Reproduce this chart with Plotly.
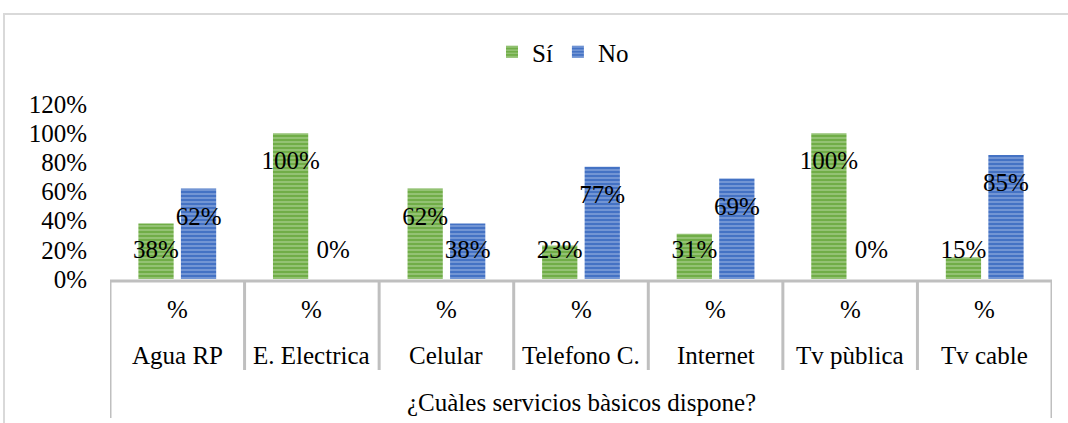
import plotly.graph_objects as go

categories = ["Agua RP", "E. Electrica", "Celular", "Telefono C.", "Internet", "Tv pùblica", "Tv cable"]
si_values = [0.38, 1.00, 0.62, 0.23, 0.31, 1.00, 0.15]
no_values = [0.62, 0.00, 0.38, 0.77, 0.69, 0.00, 0.85]
unit_label = "%"
group_title = "¿Cuàles servicios bàsicos dispone?"
y_ticks = [0, 0.2, 0.4, 0.6, 0.8, 1.0, 1.2]

FONT = "Liberation Serif, Times New Roman, serif"
GREEN = "#70ad47"
BLUE = "#4472c4"
GRID = "#bfbfbf"

W, H = 1068, 423
# plot area in pixels: x 110..1052, y 104..279
L, T = 110, 104
R = W - 1052
B = H - 279
plot_h = H - T - B


def py(pix_y):
    """pixel row -> paper y"""
    return (H - B - pix_y) / plot_h


def px(pix_x):
    return (pix_x - L) / (W - L - R)


idx = list(range(len(categories)))
off = 0.158
bw = 0.262
big = dict(family=FONT, size=25, color="black")

fig = go.Figure()
for name, vals, col, light, sign in [
    ("Sí", si_values, GREEN, "#d4e8c6", -1),
    ("No", no_values, BLUE, "#c9d7f0", 1),
]:
    xs = [i + sign * off for i in idx]
    fig.add_trace(go.Bar(
        x=xs, y=vals, width=bw, name=name,
        marker=dict(color=col, line=dict(width=0),
                    pattern=dict(shape="-", fgcolor=light, bgcolor=col,
                                 size=4, solidity=0.35)),
    ))
    # Excel style labels: inside end, clamped near the axis
    fig.add_trace(go.Scatter(
        x=xs, y=[max(v - 0.205, 0.185) for v in vals],
        mode="text", text=[f"{round(v * 100)}%" for v in vals],
        textfont=big, showlegend=False, cliponaxis=False, hoverinfo="skip",
    ))

shapes = []
# category table under the axis
shapes.append(dict(type="line", xref="x", yref="paper", x0=-0.5, x1=len(categories) - 0.5,
                   y0=py(281), y1=py(281), line=dict(color=GRID, width=3)))
for k in range(len(categories) + 1):
    outer = k in (0, len(categories))
    shapes.append(dict(type="line", xref="x", yref="paper", x0=k - 0.5, x1=k - 0.5,
                       y0=py(281), y1=py(418 if outer else 370),
                       line=dict(color=GRID, width=3)))
# chart area border
shapes.append(dict(type="rect", xref="paper", yref="paper",
                   x0=px(4), x1=px(1080), y0=py(14), y1=py(440),
                   line=dict(color="#d9d9d9", width=2)))

annotations = []
for i, c in enumerate(categories):
    annotations.append(dict(x=i, y=py(309), xref="x", yref="paper", text=unit_label,
                            yanchor="middle", showarrow=False, font=big))
    annotations.append(dict(x=i, y=py(355), xref="x", yref="paper", text=c,
                            yanchor="middle", showarrow=False, font=big))
annotations.append(dict(x=(len(categories) - 1) / 2, y=py(402), xref="x", yref="paper",
                        text=group_title, yanchor="middle", showarrow=False, font=big))

fig.update_layout(
    width=W, height=H,
    margin=dict(l=L, r=R, t=T, b=B),
    barmode="overlay",
    plot_bgcolor="white", paper_bgcolor="white",
    font=big,
    showlegend=True,
    legend=dict(orientation="h", x=px(563), xanchor="center", y=py(52), yanchor="middle",
                font=big, itemwidth=30, tracegroupgap=0),
    shapes=shapes, annotations=annotations,
)
fig.update_xaxes(range=[-0.5, len(categories) - 0.5], showticklabels=False,
                 showgrid=False, zeroline=False, showline=False)
fig.update_yaxes(range=[0, 1.2], tickvals=y_ticks, tickformat=".0%",
                 showgrid=False, zeroline=False, showline=False,
                 ticklabelstandoff=22, tickfont=big)

# drop the default body margin so the figure sits at the window corner
fig.write_html("out.html", config={"displayModeBar": False},
               post_script="document.body.style.margin='0';")
